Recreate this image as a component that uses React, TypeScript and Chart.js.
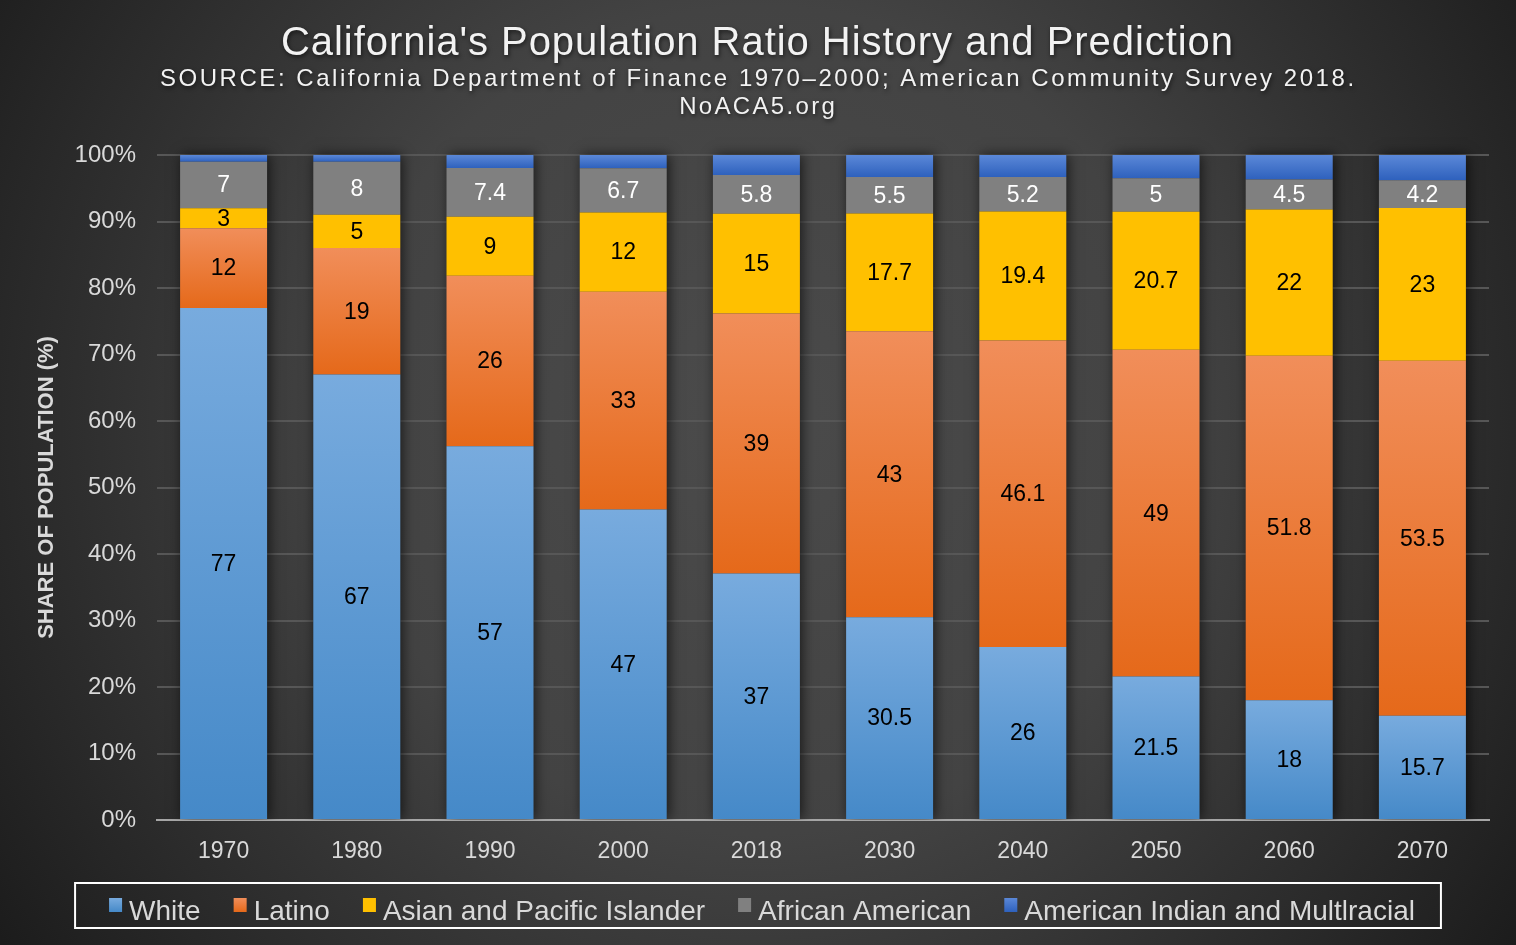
import React, { useEffect, useRef } from 'react';
import { Chart, registerables } from 'chart.js';

Chart.register(...registerables);

const categories = ['1970', '1980', '1990', '2000', '2018', '2030', '2040', '2050', '2060', '2070'];
const white = [77, 67, 57, 47, 37, 30.5, 26, 21.5, 18, 15.7];
const latino = [12, 19, 26, 33, 39, 43, 46.1, 49, 51.8, 53.5];
const asian = [3, 5, 9, 12, 15, 17.7, 19.4, 20.7, 22, 23];
const african = [7, 8, 7.4, 6.7, 5.8, 5.5, 5.2, 5, 4.5, 4.2];
const indian = [1, 1, 2, 2, 3, 3.3, 3.3, 3.5, 3.7, 3.8];

const seriesNames = ['White', 'Latino', 'Asian and Pacific Islander', 'African American', 'American Indian and Multlracial'];
const seriesValues = [white, latino, asian, african, indian];
const gradientStops: [string, string][] = [
  ['#78abde', '#4589c8'],
  ['#f18e5a', '#e5691a'],
  ['#ffc000', '#ffc000'],
  ['#808080', '#808080'],
  ['#5b88d8', '#2e61bd'],
];
const labelColors: (string | null)[] = ['#000000', '#000000', '#000000', '#ffffff', null];
const yTicks = [0, 10, 20, 30, 40, 50, 60, 70, 80, 90, 100];

const titleText = "California's Population Ratio History and Prediction";
const subtitleText = 'SOURCE: California Department of Finance 1970\u20132000; American Community Survey 2018.';
const subtitle2Text = 'NoACA5.org';
const yTitle = 'SHARE OF POPULATION (%)';

const totals = categories.map((_, i) => seriesValues.reduce((s, arr) => s + arr[i], 0));
const shares = seriesValues.map((arr) => arr.map((v, i) => (v / totals[i]) * 100));

const W = 1516;
const H = 945;
const FONT = '"Liberation Sans", Arial, Helvetica, sans-serif';

function fitText(ctx: CanvasRenderingContext2D, text: string, font: string, target: number, x: number, y: number) {
  ctx.font = font;
  (ctx as any).letterSpacing = '0px';
  const w = ctx.measureText(text).width;
  const sp = Math.max(0, (target - w) / text.length);
  (ctx as any).letterSpacing = sp.toFixed(2) + 'px';
  ctx.textAlign = 'center';
  ctx.fillText(text, x + sp / 2, y);
  (ctx as any).letterSpacing = '0px';
}

const bgPlugin = {
  id: 'bgPlugin',
  beforeDraw(chart: any) {
    const ctx = chart.ctx as CanvasRenderingContext2D;
    ctx.save();
    const g = ctx.createRadialGradient(760, 420, 0, 760, 420, 920);
    g.addColorStop(0, '#4b4b4b');
    g.addColorStop(0.45, '#434343');
    g.addColorStop(1, '#1c1c1c');
    ctx.fillStyle = g;
    ctx.fillRect(0, 0, chart.width, chart.height);
    ctx.restore();
  },
  beforeDatasetsDraw(chart: any) {
    const ctx = chart.ctx as CanvasRenderingContext2D;
    const area = chart.chartArea;
    const first = chart.getDatasetMeta(0);
    const last = chart.getDatasetMeta(seriesValues.length - 1);
    ctx.save();
    ctx.beginPath();
    ctx.rect(area.left, area.top - 20, area.right - area.left, area.bottom - area.top + 20);
    ctx.clip();
    ctx.shadowColor = 'rgba(0,0,0,0.65)';
    ctx.shadowBlur = 12;
    ctx.shadowOffsetX = 2;
    ctx.shadowOffsetY = 0;
    ctx.fillStyle = '#333333';
    first.data.forEach((b: any, i: number) => {
      const t = last.data[i];
      ctx.fillRect(b.x - b.width / 2, t.y, b.width, b.base - t.y);
    });
    ctx.restore();
  },
  afterDatasetsDraw(chart: any) {
    const ctx = chart.ctx as CanvasRenderingContext2D;
    ctx.save();
    ctx.font = '23px ' + FONT;
    ctx.textAlign = 'center';
    ctx.textBaseline = 'middle';
    seriesValues.forEach((arr, di) => {
      const color = labelColors[di];
      if (!color) return;
      const meta = chart.getDatasetMeta(di);
      meta.data.forEach((el: any, i: number) => {
        ctx.fillStyle = color;
        ctx.fillText(String(arr[i]), el.x, (el.y + el.base) / 2 + 1);
      });
    });
    ctx.restore();
  },
  afterDraw(chart: any) {
    const ctx = chart.ctx as CanvasRenderingContext2D;
    ctx.save();
    ctx.shadowColor = 'rgba(0,0,0,0.6)';
    ctx.shadowBlur = 4;
    ctx.shadowOffsetX = 1;
    ctx.shadowOffsetY = 2;
    ctx.fillStyle = '#f2f2f2';
    ctx.textBaseline = 'alphabetic';
    fitText(ctx, titleText, '40px ' + FONT, 953, 757, 55);
    fitText(ctx, subtitleText, '24px ' + FONT, 1197, 757, 86);
    fitText(ctx, subtitle2Text, '24px ' + FONT, 158, 757, 114);
    ctx.restore();

    // legend
    ctx.save();
    const font = '28px ' + FONT;
    ctx.font = font;
    const boxW = 13;
    const boxH = 14;
    const boxGap = 7;
    const itemGap = 33;
    const widths = seriesNames.map((n) => ctx.measureText(n).width);
    const total = widths.reduce((s, w) => s + boxW + boxGap + w, 0) + itemGap * (seriesNames.length - 1);
    let x = 762 - total / 2;
    const startX = x;
    const baseY = 920;
    ctx.textBaseline = 'alphabetic';
    ctx.textAlign = 'left';
    seriesNames.forEach((name, i) => {
      const [top, bottom] = gradientStops[i];
      const g = ctx.createLinearGradient(0, 898, 0, 898 + boxH);
      g.addColorStop(0, top);
      g.addColorStop(1, bottom);
      ctx.fillStyle = g;
      ctx.fillRect(x, 898, boxW, boxH);
      ctx.fillStyle = '#d9d9d9';
      ctx.fillText(name, x + boxW + boxGap, baseY);
      x += boxW + boxGap + widths[i] + itemGap;
    });
    const endX = x - itemGap;
    ctx.strokeStyle = '#ffffff';
    ctx.lineWidth = 2;
    ctx.strokeRect(startX - 34, 883, endX - startX + 60, 45);
    ctx.restore();
  },
};

export default function App() {
  const ref = useRef<HTMLCanvasElement | null>(null);

  useEffect(() => {
    document.body.style.margin = '0';
    const canvas = ref.current;
    if (!canvas) return;
    const datasets = seriesValues.map((_, di) => ({
      label: seriesNames[di],
      data: shares[di],
      backgroundColor: (c: any) => {
        const [top, bottom] = gradientStops[di];
        if (c.type !== 'data') return top;
        const y = c.chart.scales?.y;
        if (!y) return top;
        const i = c.dataIndex;
        let lo = 0;
        for (let k = 0; k < di; k++) lo += shares[k][i];
        const hi = lo + shares[di][i];
        const p1 = y.getPixelForValue(hi);
        const p0 = y.getPixelForValue(lo);
        if (!isFinite(p1) || !isFinite(p0) || p1 === p0) return top;
        const g = c.chart.ctx.createLinearGradient(0, p1, 0, p0);
        g.addColorStop(0, top);
        g.addColorStop(1, bottom);
        return g;
      },
      borderWidth: 0,
      barPercentage: 0.653,
      categoryPercentage: 1,
      stack: 's',
    }));

    const chart = new Chart(canvas, {
      type: 'bar',
      data: { labels: categories, datasets },
      options: {
        responsive: false,
        animation: false,
        devicePixelRatio: 1,
        layout: { padding: { left: 0, right: 27, top: 155, bottom: 65 } },
        plugins: {
          legend: { display: false },
          title: { display: false },
          tooltip: { enabled: false },
        },
        scales: {
          x: {
            stacked: true,
            grid: { display: false },
            border: { display: true, color: '#a6a6a6', width: 2 },
            ticks: { color: '#d9d9d9', font: { size: 23, family: FONT }, padding: 10 },
            afterFit: (s: any) => { s.height = 60; },
          },
          y: {
            stacked: true,
            min: 0,
            max: 100,
            afterBuildTicks: (s: any) => { s.ticks = yTicks.map((v) => ({ value: v })); },
            grid: { color: '#575757', lineWidth: 2, drawTicks: false },
            border: { display: false },
            ticks: {
              color: '#d9d9d9',
              font: { size: 24, family: FONT },
              padding: 21,
              callback: (v: any) => v + '%',
            },
            title: {
              display: true,
              text: yTitle,
              color: '#d9d9d9',
              font: { size: 22, weight: 'bold', family: FONT },
              padding: { top: 34, bottom: 0 },
            },
            afterFit: (s: any) => { s.width = 157; },
          },
        },
      },
      plugins: [bgPlugin],
    });
    return () => chart.destroy();
  }, []);

  return (
    <div style={{ width: W, height: H }}>
      <canvas ref={ref} width={W} height={H} style={{ display: 'block', width: W, height: H }} />
    </div>
  );
}
